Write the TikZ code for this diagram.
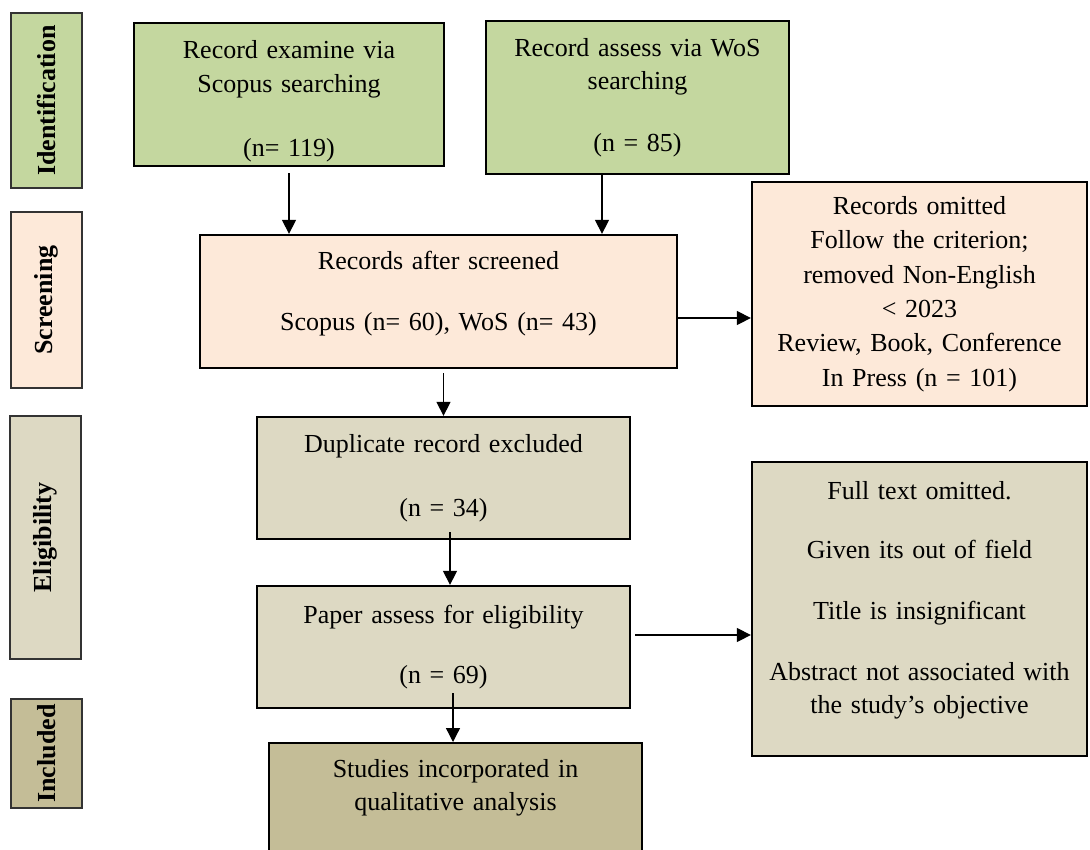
\documentclass[tikz,border=0pt]{standalone}
\usepackage{fontspec}
\setmainfont{Liberation Serif}
\usetikzlibrary{arrows.meta}
\definecolor{idgreen}{HTML}{C4D79F}
\definecolor{scpink}{HTML}{FDE9D9}
\definecolor{eltan}{HTML}{DDD9C3}
\definecolor{intan}{HTML}{C4BD97}

\begin{document}
\begin{tikzpicture}
        [
          x=1pt, y=-1pt,
          box/.style={draw=black, line width=2.3pt, align=center, inner xsep=5pt, inner ysep=0pt, font=\fontsize{26}{33.5}\selectfont},
          stage/.style={draw=black!80, line width=1.3pt, rotate=90, inner sep=0pt, minimum height=71pt, font=\fontsize{26}{30}\selectfont\bfseries},
          flow/.style={line width=1.3pt, -{Triangle[length=14pt,width=14pt]}}
        ]
        \useasboundingbox (0,0) rectangle (1090,849);
        % stages
        \node [stage, fill=idgreen, minimum width=175pt] (ident) at (46.5,100.5) {Identification};
        \node [stage, fill=scpink, minimum width=176pt] (screen) at (46.5,300) {Screening};
        \node [stage, fill=eltan, minimum width=243pt] (elig) at (45.5,537.5) {Eligibility};
        \node [stage, fill=intan, minimum width=109pt] (incl) at (46.5,753.5) {Included};
        % identification
        \node [box, fill=idgreen, text width=300pt, minimum height=143pt, text depth=90pt] (scopus) at (289,94.5)
        {Record examine via\\Scopus searching\\[31pt](n= 119)};
        \node [box, fill=idgreen, text width=293pt, minimum height=153pt] (wos) at (637.5,97.5)
        {Record assess via WoS\\searching\\[28pt](n = 85)};
        % screening
        \node [box, fill=scpink, text width=467pt, minimum height=133pt, text depth=82pt] (screened) at (438.5,301.5)
        {Records after screened\\[27pt]Scopus (n= 60), WoS (n= 43)};
        \node [box, fill=scpink, text width=325pt, minimum height=224pt, font=\fontsize{26}{34.4}\selectfont] (omitted) at (919.5,294)
        {Records omitted\\Follow the criterion;\\removed Non-English\\< 2023\\Review, Book, Conference\\In Press (n = 101)};
        % eligibility
        \node [box, fill=eltan, text width=363pt, minimum height=122pt] (dup) at (443.5,478)
        {Duplicate record excluded\\[31pt](n = 34)};
        \node [box, fill=eltan, text width=363pt, minimum height=122pt] (paper) at (443.5,647)
        {Paper assess for eligibility\\[27pt](n = 69)};
        \node [box, fill=eltan, text width=325pt, minimum height=294pt, text depth=237pt] (fulltext) at (919.5,609)
        {Full text omitted.\\[25pt]Given its out of field\\[28pt]Title is insignificant\\[27pt]Abstract not associated with\\the study’s objective};
        % included
        \node [box, fill=intan, text width=363pt, anchor=north, inner ysep=16pt, text depth=110pt] (studies) at (455.5,742)
        {Studies incorporated in\\qualitative analysis};
        % arrows
        \draw [flow] ([yshift=-6pt]scopus.south) -- (scopus.south |- screened.north);
        \draw [flow] ([xshift=-35.5pt]wos.south) -- ([xshift=-35.5pt]wos.south |- screened.north);
        \draw [flow] ([yshift=-16.5pt]screened.east) -- ([yshift=-16.5pt]screened.east -| omitted.west);
        \draw [flow] ([yshift=-4pt]dup.north |- screened.south) -- (dup.north);
        \draw [flow] ([xshift=6.5pt,yshift=8pt]dup.south) -- ([xshift=6.5pt]dup.south |- paper.north);
        \draw [flow] ([xshift=9.5pt,yshift=16pt]paper.south) -- ([xshift=9.5pt]paper.south |- studies.north);
        \draw [flow] ([xshift=4pt,yshift=12pt]paper.east) -- ([yshift=12pt]paper.east -| fulltext.west);
\end{tikzpicture}
\end{document}
